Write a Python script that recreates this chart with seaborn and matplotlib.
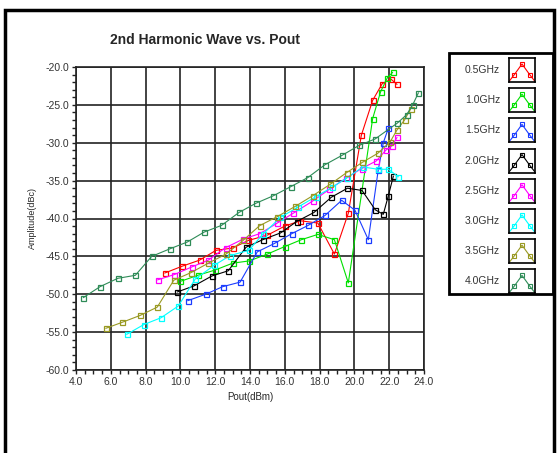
"""
Recreates the '2nd Harmonic Wave vs. Pout' chart: amplitude of the 2nd
harmonic (dBc) against output power for eight frequencies.
"""

import matplotlib

matplotlib.use("Agg")
import matplotlib.pyplot as plt
import pandas as pd
import seaborn as sns
from matplotlib.patches import Rectangle
from matplotlib.ticker import FormatStrFormatter, MultipleLocator

# --- 1. Data ---

FREQ_LABELS = ["0.5GHz", "1.0GHz", "1.5GHz", "2.0GHz", "2.5GHz", "3.0GHz", "3.5GHz", "4.0GHz"]
FREQ_COLORS = ["#ff0000", "#00e000", "#1a3cff", "#000000", "#ff00ff", "#00ffff", "#999922", "#2e8b57"]

pout_05 = [9.1, 10.1, 11.1, 12.05, 13.0, 13.9, 15.0, 16.0, 16.9, 17.9, 18.85, 19.65, 20.4, 21.05, 21.6, 22.1, 22.45]
amp_05 = [-47.2, -46.3, -45.5, -44.2, -43.9, -42.9, -42.2, -41.0, -40.3, -40.6, -44.7, -39.3, -29.0, -24.4, -22.2, -21.6, -22.3]

pout_10 = [10.0, 11.0, 12.0, 13.0, 13.95, 15.0, 16.0, 16.95, 17.9, 18.85, 19.65, 21.05, 21.5, 21.9, 22.2]
amp_10 = [-48.3, -47.5, -46.8, -45.9, -45.6, -44.7, -43.7, -42.8, -42.1, -42.8, -48.5, -26.8, -23.3, -21.4, -20.7]

pout_15 = [10.42, 11.45, 12.43, 13.43, 14.42, 15.4, 16.4, 17.35, 18.31, 19.27, 20.03, 20.8, 21.37, 21.66, 21.95]
amp_15 = [-50.85, -50.0, -49.0, -48.4, -44.4, -43.3, -42.0, -40.9, -39.6, -37.6, -38.9, -42.8, -33.6, -30.0, -28.1]

pout_20 = [9.82, 10.78, 11.8, 12.75, 13.77, 14.73, 15.76, 16.68, 17.68, 18.67, 19.6, 20.44, 21.2, 21.66, 21.95, 22.24]
amp_20 = [-49.7, -48.9, -47.6, -46.9, -43.8, -42.8, -41.9, -40.4, -39.2, -37.2, -36.0, -36.3, -38.85, -39.45, -37.0, -34.4]

pout_25 = [8.69, 9.65, 10.65, 11.6, 12.6, 13.62, 14.57, 15.57, 16.49, 17.6, 18.56, 19.5, 20.42, 21.26, 21.8, 22.16, 22.45]
amp_25 = [-48.1, -47.4, -46.4, -45.5, -43.85, -42.7, -42.0, -40.6, -39.3, -37.7, -36.15, -34.7, -33.4, -32.4, -31.0, -30.4, -29.3]

pout_30 = [6.91, 7.9, 8.89, 9.88, 10.85, 11.93, 12.85, 13.93, 14.77, 15.75, 16.75, 17.8, 18.7, 19.6, 20.48, 21.37, 21.95, 22.53]
amp_30 = [-55.3, -54.0, -53.1, -51.55, -48.0, -46.2, -44.9, -44.2, -42.0, -39.85, -38.5, -37.1, -35.9, -34.6, -33.2, -33.5, -33.5, -34.5]

pout_35 = [5.71, 6.66, 7.68, 8.67, 9.62, 10.6, 11.6, 12.62, 13.6, 14.55, 15.57, 16.6, 17.6, 18.6, 19.55, 20.45, 21.34, 22.05, 22.45, 22.88, 23.24]
amp_35 = [-54.5, -53.7, -52.8, -51.7, -48.15, -47.15, -45.9, -44.7, -42.9, -40.95, -39.75, -38.4, -37.0, -35.5, -33.95, -32.6, -31.4, -29.9, -28.3, -27.0, -25.5]

pout_40 = [4.42, 5.38, 6.4, 7.41, 8.35, 9.4, 10.4, 11.36, 12.37, 13.37, 14.33, 15.34, 16.34, 17.32, 18.31, 19.3, 20.27, 21.19, 22.47, 23.0, 23.35, 23.68]
amp_40 = [-50.45, -49.0, -47.9, -47.5, -45.0, -44.0, -43.1, -41.8, -40.9, -39.2, -38.0, -37.0, -35.8, -34.6, -32.9, -31.65, -30.35, -29.5, -27.4, -26.3, -25.0, -23.4]

SERIES = [
    (pout_05, amp_05),
    (pout_10, amp_10),
    (pout_15, amp_15),
    (pout_20, amp_20),
    (pout_25, amp_25),
    (pout_30, amp_30),
    (pout_35, amp_35),
    (pout_40, amp_40),
]

W, H = 558, 453


def build_frame():
    """Long-form table: one row per measured point."""
    rows = []
    for label, (xs, ys) in zip(FREQ_LABELS, SERIES):
        for x, y in zip(xs, ys):
            rows.append({"freq": label, "pout": x, "amp": y})
    return pd.DataFrame(rows)


# --- 2. Plot ---


def main():
    sns.set_style("white")
    plt.rcParams["font.family"] = ["Liberation Sans", "DejaVu Sans"]

    df = build_frame()

    fig = plt.figure(figsize=(W / 100, H / 100), dpi=100)
    ax = fig.add_axes([76 / W, 1 - 370 / H, 348 / W, 303 / H])

    for label, color in zip(FREQ_LABELS, FREQ_COLORS):
        sub = df[df["freq"] == label]
        sns.lineplot(
            data=sub, x="pout", y="amp", ax=ax, color=color, sort=False,
            estimator=None, legend=False, lw=0.8, marker="s", ms=3.6,
            mfc="none", mec=color, mew=0.9,
        )

    ax.set_xlim(4, 24)
    ax.set_ylim(-60, -20)
    ax.xaxis.set_major_locator(MultipleLocator(2))
    ax.xaxis.set_minor_locator(MultipleLocator(0.5))
    ax.yaxis.set_major_locator(MultipleLocator(5))
    ax.yaxis.set_minor_locator(MultipleLocator(1))
    ax.xaxis.set_major_formatter(FormatStrFormatter("%.1f"))
    ax.yaxis.set_major_formatter(FormatStrFormatter("%.1f"))
    ax.tick_params(which="both", direction="out", length=3, width=1, color="#222222",
                   labelsize=7.5, labelcolor="#333333", pad=2)
    ax.tick_params(which="both", bottom=True, left=True)
    ax.grid(True, which="major", color="#222222", lw=1.2)
    for spine in ax.spines.values():
        spine.set_color("#222222")
        spine.set_linewidth(1.2)

    ax.set_xlabel("Pout(dBm)", fontsize=7, labelpad=4)
    ax.set_ylabel("Amplitude(dBc)", fontsize=6.5, labelpad=6)

    fig.text(205 / W, 1 - 40 / H, "2nd Harmonic Wave vs. Pout", ha="center", va="center",
             fontsize=10, fontweight="bold")

    # outer frame, its bottom edge falls outside the picture
    fig.patches.append(Rectangle((5 / W, -0.1), 549 / W, 1.1 - 10 / H, transform=fig.transFigure,
                                 fill=False, ec="black", lw=2.5))

    # legend box with one small icon per frequency
    fig.patches.append(Rectangle((449 / W, 1 - 294 / H), 104 / W, 241 / H,
                                 transform=fig.transFigure, fill=False, ec="black", lw=2))
    for i, (label, color) in enumerate(zip(FREQ_LABELS, FREQ_COLORS)):
        yc = 70 + i * 30.2
        fig.text(500 / W, 1 - yc / H, label, ha="right", va="center", fontsize=7.5,
                 color="#333333")
        icon = fig.add_axes([509 / W, 1 - (yc + 12) / H, 26 / W, 24 / H])
        icon.plot([0.02, 0.2, 0.5, 0.8, 0.98], [0.05, 0.3, 0.75, 0.3, 0.05], color=color,
                  lw=0.8)
        icon.plot([0.2, 0.5, 0.8], [0.3, 0.75, 0.3], ls="none", marker="s", ms=3,
                  mfc="none", mec=color, mew=0.8)
        icon.set_xlim(0, 1)
        icon.set_ylim(0, 1)
        icon.set_xticks([])
        icon.set_yticks([])
        for spine in icon.spines.values():
            spine.set_color("black")
            spine.set_linewidth(1.2)

    fig.savefig("out.png", dpi=100)
    plt.close(fig)


if __name__ == "__main__":
    main()
